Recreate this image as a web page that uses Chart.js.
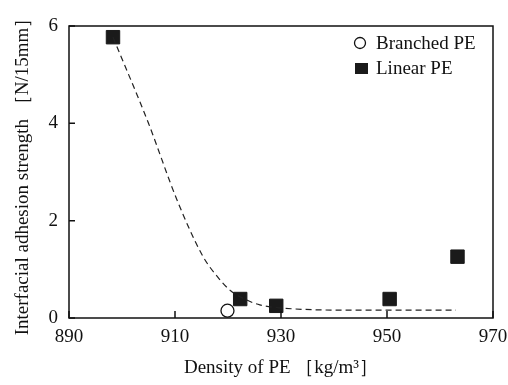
<!DOCTYPE html>
<html>
<head>
<meta charset="utf-8">
<script src="https://cdn.jsdelivr.net/npm/chart.js@4"></script>
<style>
  body { margin: 0; background: #fff; }
  #wrap { width: 508px; height: 385px; }
</style>
</head>
<body>
<div id="wrap"><canvas id="myChart" width="508" height="385"></canvas></div>
<script>
// values
var linearDensity = [898.3, 922.3, 929.1, 950.5, 963.3];
var linearStrength = [5.77, 0.39, 0.25, 0.39, 1.26];

var branchedDensity = [919.9];
var branchedStrength = [0.15];

// dashed guide curve
var curveDensity = [898.3, 905, 910.4, 915.3, 918, 920.5, 923.5, 926, 932, 945, 963];
var curveStrength = [5.77, 4.0, 2.42, 1.26, 0.85, 0.56, 0.37, 0.27, 0.19, 0.16, 0.16];

var xTicks = [890, 910, 930, 950, 970];
var yTicks = [0, 2, 4, 6];

function pairs(xs, ys) {
    return xs.map(function (x, i) { return { x: x, y: ys[i] }; });
}

var serif = '"Liberation Serif", "DejaVu Serif", serif';

// frame + inward ticks
var framePlugin = {
    id: 'frame',
    afterDraw: function (chart) {
        var ctx = chart.ctx;
        var a = chart.chartArea;
        var xs = chart.scales.x, ys = chart.scales.y;
        ctx.save();
        ctx.strokeStyle = '#111';
        ctx.lineWidth = 1.5;
        ctx.strokeRect(a.left, a.top, a.right - a.left, a.bottom - a.top);
        ctx.beginPath();
        xTicks.forEach(function (v) {
            var px = xs.getPixelForValue(v);
            ctx.moveTo(px, a.bottom);
            ctx.lineTo(px, a.bottom - 7);
        });
        yTicks.forEach(function (v) {
            var py = ys.getPixelForValue(v);
            ctx.moveTo(a.left, py);
            ctx.lineTo(a.left + 6, py);
        });
        ctx.stroke();
        ctx.restore();
    }
};

// legend in the upper right corner of the plot
var legendPlugin = {
    id: 'boxLegend',
    afterDraw: function (chart) {
        var ctx = chart.ctx;
        var a = chart.chartArea;
        var x0 = a.right - 139;
        var y0 = a.top + 17;
        ctx.save();
        ctx.font = '19px ' + serif;
        ctx.fillStyle = '#111';
        ctx.textBaseline = 'middle';
        // branched
        ctx.beginPath();
        ctx.arc(x0 + 6, y0, 5.5, 0, Math.PI * 2);
        ctx.lineWidth = 1.3;
        ctx.strokeStyle = '#111';
        ctx.stroke();
        ctx.fillText(chart.data.datasets[2].label, x0 + 22, y0 + 1);
        // linear
        ctx.fillStyle = '#1a1a1a';
        ctx.fillRect(x0 + 1, y0 + 20, 13, 11);
        ctx.fillStyle = '#111';
        ctx.fillText(chart.data.datasets[1].label, x0 + 22, y0 + 26);
        ctx.restore();
    }
};

const data = {
    datasets: [{
        label: 'curve',
        data: pairs(curveDensity, curveStrength),
        showLine: true,
        borderColor: '#222',
        borderWidth: 1.2,
        borderDash: [6, 4],
        pointRadius: 0,
        cubicInterpolationMode: 'monotone',
        fill: false
    }, {
        label: 'Linear PE',
        data: pairs(linearDensity, linearStrength),
        pointStyle: 'rect',
        pointRadius: 9.5,
        pointBackgroundColor: '#1a1a1a',
        pointBorderColor: '#1a1a1a',
        pointBorderWidth: 1
    }, {
        label: 'Branched PE',
        data: pairs(branchedDensity, branchedStrength),
        pointStyle: 'circle',
        pointRadius: 6.5,
        pointBackgroundColor: '#fff',
        pointBorderColor: '#111',
        pointBorderWidth: 1.3
    }]
};

const config = {
    type: 'scatter',
    data: data,
    options: {
        responsive: false,
        animation: false,
        layout: { padding: { left: 12, right: 15, top: 26, bottom: 6 } },
        plugins: {
            legend: { display: false },
            tooltip: { enabled: false }
        },
        scales: {
            x: {
                type: 'linear',
                min: 890,
                max: 970,
                afterBuildTicks: function (s) { s.ticks = xTicks.map(function (v) { return { value: v }; }); },
                afterFit: function (s) {
                    s.height = 385 - 318 - 6;
                    s.paddingLeft = 0;
                    s.paddingRight = 0;
                },
                grid: { display: false, drawTicks: false },
                border: { display: false },
                ticks: { color: '#111', font: { family: serif, size: 19 }, padding: 8 },
                title: {
                    display: true,
                    text: 'Density of PE ［kg/m³］',
                    color: '#111',
                    font: { family: serif, size: 19 },
                    padding: { top: 4, bottom: 0 }
                }
            },
            y: {
                type: 'linear',
                min: 0,
                max: 6,
                afterBuildTicks: function (s) { s.ticks = yTicks.map(function (v) { return { value: v }; }); },
                afterFit: function (s) {
                    s.width = 69 - 12;
                    s.paddingTop = 0;
                    s.paddingBottom = 0;
                },
                grid: { display: false, drawTicks: false },
                border: { display: false },
                ticks: { color: '#111', font: { family: serif, size: 19 }, padding: 11 },
                title: {
                    display: true,
                    text: 'Interfacial adhesion strength ［N/15mm］',
                    color: '#111',
                    font: { family: serif, size: 19 },
                    padding: 0
                }
            }
        }
    },
    plugins: [framePlugin, legendPlugin]
};

const myChart = new Chart(document.getElementById('myChart'), config);
</script>
</body>
</html>
